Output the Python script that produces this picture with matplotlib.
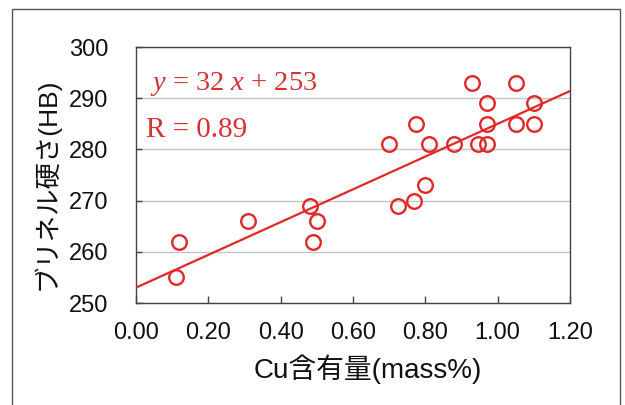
import numpy as np
import matplotlib
matplotlib.use('Agg')
import matplotlib.pyplot as plt
from matplotlib.patches import Rectangle

# -*- coding: utf-8 -*-

# Cu content (mass%) vs Brinell hardness (HB)
cu_content = [0.11, 0.12, 0.31, 0.48, 0.50, 0.49,
              0.70, 0.725, 0.77, 0.775, 0.80, 0.81,
              0.88, 0.93, 0.945, 0.97, 0.97, 0.97,
              1.05, 1.05, 1.10, 1.10]
hardness = [255, 262, 266, 269, 266, 262,
            281, 269, 270, 285, 273, 281,
            281, 293, 281, 281, 285, 289,
            293, 285, 289, 285]

fit_slope = 32
fit_intercept = 253
fit_label = r'$y$ = 32 $x$ + 253'
r_label = 'R = 0.89'

x_ticks = [0.0, 0.2, 0.4, 0.6, 0.8, 1.0, 1.2]
y_ticks = [250, 260, 270, 280, 290, 300]
x_label = 'Cu含有量(mass%)'
y_label = 'ブリネル硬さ(HB)'

RED = '#e12828'
TEXT_RED = '#d63131'
SANS = ['Liberation Sans', 'Noto Sans CJK JP', 'DejaVu Sans']

plt.rcParams['font.family'] = SANS
plt.rcParams['mathtext.fontset'] = 'custom'
plt.rcParams['mathtext.rm'] = 'Liberation Serif'
plt.rcParams['mathtext.it'] = 'Liberation Serif:italic'

fig = plt.figure(figsize=(6.25, 4.05), dpi=100)
ax = fig.add_axes([136 / 625, 1 - 303 / 405, 434 / 625, 256 / 405])

# horizontal grid lines only
ax.set_axisbelow(True)
ax.grid(axis='y', color='#c4c4c4', linewidth=1.0)

# fitted line across the full x range
xs = np.array([x_ticks[0], x_ticks[-1]])
ax.plot(xs, fit_slope * xs + fit_intercept, color=RED, linewidth=1.6, zorder=3)

# open circle markers
ax.plot(cu_content, hardness, linestyle='none', marker='o', markersize=10.5,
        markerfacecolor='none', markeredgecolor=RED, markeredgewidth=1.7, zorder=4)

ax.set_xlim(x_ticks[0], x_ticks[-1])
ax.set_ylim(y_ticks[0], y_ticks[-1])
ax.set_xticks(x_ticks)
ax.set_yticks(y_ticks)
ax.set_xticklabels(['%.2f' % v for v in x_ticks])
ax.set_yticklabels([str(v) for v in y_ticks])
ax.tick_params(axis='x', direction='in', length=5, width=1, color='#444444',
               labelsize=17, pad=14, labelcolor='#111111')
ax.tick_params(axis='y', direction='in', length=4, width=1, color='#444444',
               labelsize=17, pad=20, labelcolor='#111111')
for s in ax.spines.values():
    s.set_color('#444444')
    s.set_linewidth(1.0)

# equation and correlation text
ax.text(0.032, 0.832, fit_label, transform=ax.transAxes, fontsize=20.5,
        family='Liberation Serif', color=TEXT_RED, va='baseline', ha='left')
ax.text(0.023, 0.648, r_label, transform=ax.transAxes, fontsize=21,
        family='Liberation Serif', color=TEXT_RED, va='baseline', ha='left')

# axis titles
fig.text(368 / 625, 1 - 369 / 405, x_label, fontsize=20, ha='center', va='center',
         color='#111111')
fig.text(46 / 625, 1 - 184 / 405, y_label, fontsize=19, ha='center', va='center',
         rotation=90, color='#111111')

# outer frame around the whole chart
fig.patches.append(Rectangle((12 / 625, -0.02), 608 / 625, 1 - 9 / 405 + 0.02,
                             transform=fig.transFigure, fill=False,
                             edgecolor='#555555', linewidth=1.0))

fig.savefig('out.png', dpi=100)
